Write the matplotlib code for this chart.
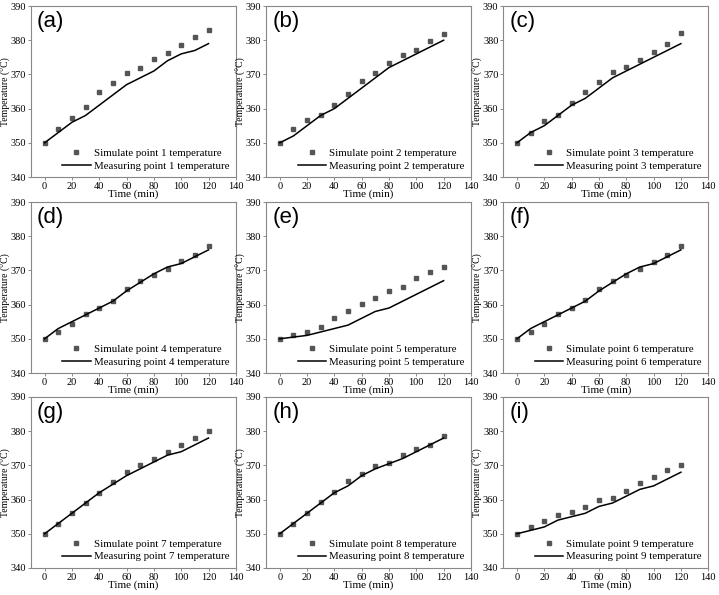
import numpy as np
import matplotlib.pyplot as plt

plt.rcParams['font.family'] = ['Liberation Serif', 'DejaVu Serif']

time = [0, 10, 20, 30, 40, 50, 60, 70, 80, 90, 100, 110, 120]
labels = ['(a)', '(b)', '(c)', '(d)', '(e)', '(f)', '(g)', '(h)', '(i)']

sim1 = [350, 354.0, 357.3, 360.6, 364.9, 367.5, 370.5, 372.0, 374.5, 376.3, 378.5, 380.8, 383.0]
mea1 = [350, 353, 356, 358, 361, 364, 367, 369, 371, 374, 376, 377, 379]
sim2 = [350, 354.0, 356.8, 358.2, 361.2, 364.3, 368.0, 370.4, 373.2, 375.6, 377.1, 379.9, 381.9]
mea2 = [350, 352, 355, 358, 360, 363, 366, 369, 372, 374, 376, 378, 380]
sim3 = [350, 353.0, 356.4, 358.1, 361.7, 365.0, 367.7, 370.7, 372.1, 374.2, 376.5, 378.9, 382.0]
mea3 = [350, 353, 355, 358, 361, 363, 366, 369, 371, 373, 375, 377, 379]
sim4 = [350, 352.0, 354.3, 357.3, 359.1, 361.2, 364.6, 367.0, 368.6, 370.5, 372.7, 374.6, 377.1]
mea4 = [350, 353, 355, 357, 359, 361, 364, 366.5, 369, 371, 372, 374, 376]
sim5 = [350, 351.0, 352.0, 353.5, 356.0, 358.2, 360.2, 361.8, 363.9, 365.2, 367.8, 369.6, 371.1]
mea5 = [350, 350.5, 351, 352, 353, 354, 356, 358, 359, 361, 363, 365, 367]
sim6 = [350, 352.0, 354.3, 357.3, 359.0, 361.4, 364.6, 367.0, 368.6, 370.4, 372.6, 374.6, 377.1]
mea6 = [350, 353, 355, 357, 359, 361, 364, 366.5, 369, 371, 372, 374, 376]
sim7 = [350, 353, 356, 359, 362, 365, 368, 370, 372, 374, 376, 378, 380]
mea7 = [350, 353, 356, 359, 362, 364.5, 367, 369, 371, 373, 374, 376, 378]
sim8 = [350, 353, 356.2, 359.4, 362.2, 365.5, 367.5, 369.8, 370.6, 372.9, 374.8, 375.9, 378.7]
mea8 = [350, 353, 356, 359, 362, 364, 367, 369, 370.5, 372, 374, 376, 378]
sim9 = [350, 352.0, 353.6, 355.6, 356.5, 357.9, 360.0, 360.6, 362.6, 364.8, 366.6, 368.6, 370.0]
mea9 = [350, 351, 352, 354, 355, 356, 358, 359, 361, 363, 364, 366, 368]

sims = [sim1, sim2, sim3, sim4, sim5, sim6, sim7, sim8, sim9]
meas = [mea1, mea2, mea3, mea4, mea5, mea6, mea7, mea8, mea9]

fig = plt.figure(figsize=(7.19, 5.95), dpi=100)
lefts = [0.043, 0.370, 0.700]
bottoms = [0.7025, 0.3731, 0.0454]
w, h = 0.285, 0.2874

for i in range(9):
    r, c = i // 3, i % 3
    ax = fig.add_axes([lefts[c], bottoms[r], w, h])
    n = i + 1
    ax.plot(time, sims[i], 's', color='#555555', markersize=3.2, linestyle='none',
            label='Simulate point %d temperature' % n)
    ax.plot(time, meas[i], '-', color='black', linewidth=1.1,
            label='Measuring point %d temperature' % n)
    ax.set_xlim(-10, 140)
    ax.set_ylim(340, 390)
    ax.set_xticks(range(0, 141, 20))
    ax.set_yticks(range(340, 391, 10))
    ax.tick_params(labelsize=7.5, length=2.5, width=0.6, color='#777777', pad=1)
    for s in ax.spines.values():
        s.set_color('#888888')
        s.set_linewidth(0.8)
    ax.set_xlabel('Time (min)', fontsize=8, labelpad=-1)
    ax.set_ylabel('Temperature (°C)', fontsize=7)
    ax.yaxis.set_label_coords(-0.097, 0.5)
    ax.text(0.03, 0.97, labels[i], transform=ax.transAxes, fontsize=16,
            family='Liberation Sans', va='top', ha='left')
    ax.legend(loc='lower right', frameon=False, fontsize=7.8, handlelength=2.6,
              borderaxespad=0.2, labelspacing=0.25, handletextpad=0.3)

fig.savefig('out.png', dpi=100)
